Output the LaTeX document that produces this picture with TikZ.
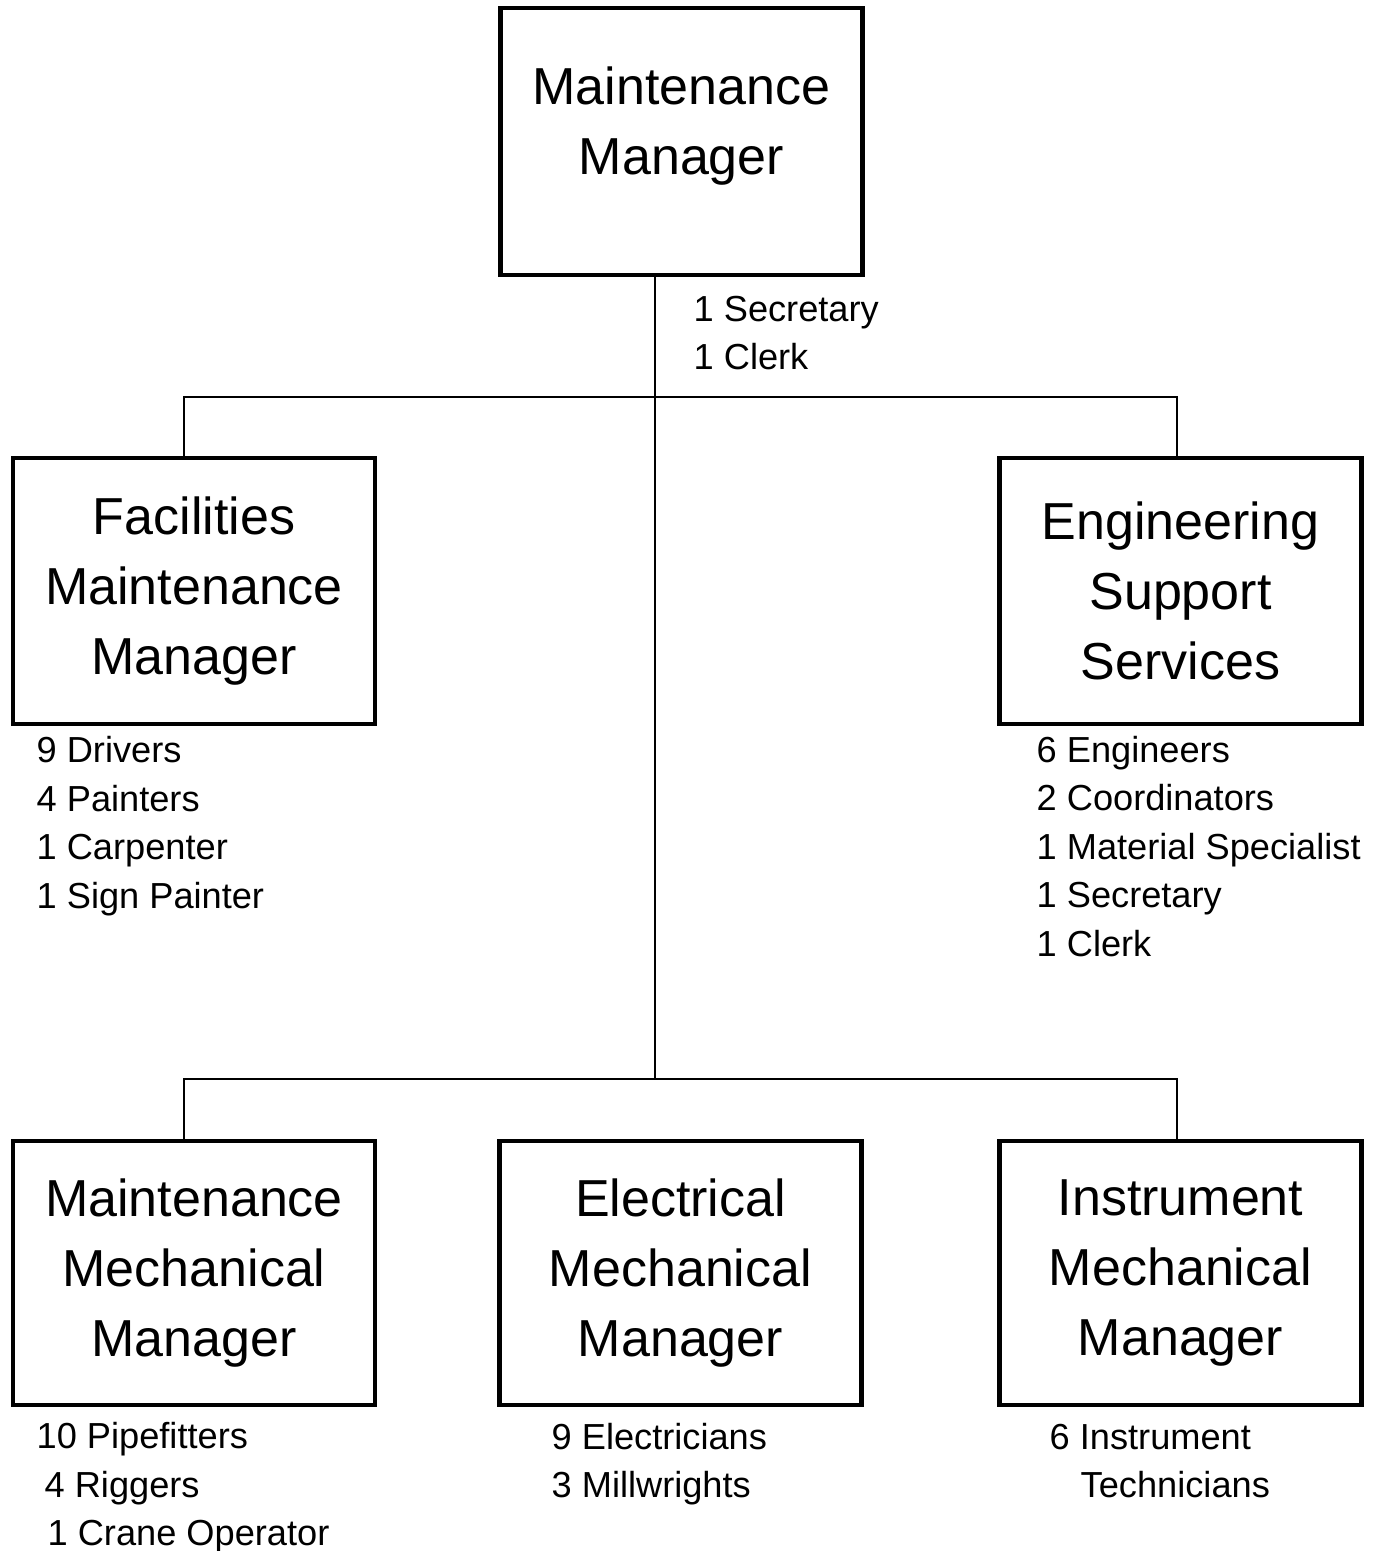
\documentclass[tikz,border=0pt]{standalone}
\usepackage{fontspec}
\setmainfont{Liberation Sans}
\begin{document}
\begin{tikzpicture}[
  box/.style={draw, line width=1.2pt, minimum width=3.62cm, minimum height=2.66cm,
    align=center, inner sep=0pt, font=\fontsize{14.8}{19.9}\selectfont},
  staff/.style={anchor=west, align=left, inner sep=0pt,
    font=\fontsize{10.3}{13.8}\selectfont},
  link/.style={line width=0.75pt}
]
\useasboundingbox (0,0) rectangle (13.76,15.51);
\def\ymid{9.60}
\def\ybot{2.78}

% top manager, text sits a bit high in the box
\node[box, minimum height=2.67cm] (mgr) at (6.815,14.095)
  {Maintenance\\Manager\\[-0.28cm]\mbox{}};

% second row
\node[box] (fac) at (1.94,\ymid) {Facilities\\Maintenance\\Manager};
\node[box] (eng) at (11.805,\ymid) {Engineering\\Support\\Services};

% third row
\node[box, minimum height=2.64cm] (mmm) at (1.94,\ybot) {Maintenance\\Mechanical\\Manager};
\node[box, minimum height=2.64cm] (emm) at (6.805,\ybot) {Electrical\\Mechanical\\Manager};
\node[box, minimum height=2.64cm] (imm) at (11.805,\ybot) {Instrument\\Mechanical\\Manager};

% trunk and the two buses
\coordinate (hub) at (6.55,11.54);
\coordinate (hublow) at (6.55,4.72);
\draw[link] (mgr.south -| hub) -- (hublow);
\draw[link] ([xshift=-0.10cm]fac.north) |- (hub) -| ([xshift=-0.035cm]eng.north);
\draw[link] ([xshift=-0.10cm]mmm.north) |- (hublow) -| ([xshift=-0.035cm]imm.north);

% head counts
\node[staff] (mgrstaff) at (6.93,12.18) {1 Secretary\\1 Clerk};
\node[staff] (facstaff) at (0.36,7.25)
  {9 Drivers\\4 Painters\\1 Carpenter\\1 Sign Painter};
\node[staff] (engstaff) at (10.36,7.045)
  {6 Engineers\\2 Coordinators\\1 Material Specialist\\1 Secretary\\1 Clerk};
\node[staff] (mmmstaff) at (0.36,0.63)
  {10 Pipefitters\\\hspace*{0.08cm}4 Riggers\\\hspace*{0.11cm}1 Crane Operator};
\node[staff] (emmstaff) at (5.51,0.87) {9 Electricians\\3 Millwrights};
\node[staff] (immstaff) at (10.49,0.90) {6 Instrument\\\hspace*{0.31cm}Technicians};
\end{tikzpicture}
\end{document}
